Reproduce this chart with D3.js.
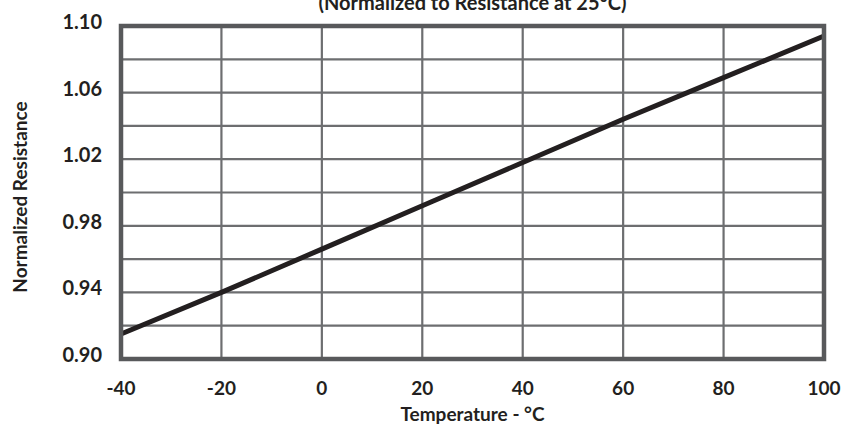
<!DOCTYPE html>
<meta charset="utf-8">
<title>Normalized Resistance</title>
<style>
body {
  margin: 0;
  background: #fff;
}
text {
  font-family: Lato, "Open Sans", sans-serif;
  font-weight: 700;
  fill: #231f20;
}
</style>
<body>
<svg width="849" height="426"></svg>
<script src="https://d3js.org/d3.v7.min.js"></script>
<script>
// temperature (°C) and resistance normalized to 25°C
var temps = [-40, -20, 0, 20, 40, 60, 80, 100];
var resistance = [0.915, 0.940, 0.966, 0.992, 1.018, 1.044, 1.069, 1.094];

var xTicks = [-40, -20, 0, 20, 40, 60, 80, 100];
var yGrid = [0.90, 0.92, 0.94, 0.96, 0.98, 1.00, 1.02, 1.04, 1.06, 1.08, 1.10];
var yLabels = [0.90, 0.94, 0.98, 1.02, 1.06, 1.10];

var svg = d3.select("svg"),
    plotLeft = 121, plotRight = 824, plotTop = 26, plotBottom = 359;

var x = d3.scaleLinear().domain([-40, 100]).range([plotLeft, plotRight]);
var y = d3.scaleLinear().domain([0.90, 1.10]).range([plotBottom, plotTop]);

//grid
var grid = svg.append("g").attr("stroke", "#6d6e70").attr("stroke-width", 2.2);

grid.selectAll(".vx")
  .data(xTicks.slice(1, -1))
  .enter().append("line")
    .attr("x1", function(d) { return x(d); })
    .attr("x2", function(d) { return x(d); })
    .attr("y1", plotTop)
    .attr("y2", plotBottom);

grid.selectAll(".hy")
  .data(yGrid.slice(1, -1))
  .enter().append("line")
    .attr("x1", plotLeft)
    .attr("x2", plotRight)
    .attr("y1", function(d) { return y(d); })
    .attr("y2", function(d) { return y(d); });

//the curve
var line = d3.line()
    .x(function(d, i) { return x(temps[i]); })
    .y(function(d) { return y(d); });

svg.append("path")
    .datum(resistance)
    .attr("d", line)
    .attr("fill", "none")
    .attr("stroke", "#231f20")
    .attr("stroke-width", 5);

//frame
svg.append("rect")
    .attr("x", plotLeft)
    .attr("y", plotTop)
    .attr("width", plotRight - plotLeft)
    .attr("height", plotBottom - plotTop)
    .attr("fill", "none")
    .attr("stroke", "#58595b")
    .attr("stroke-width", 4.5);

//tick labels
svg.append("g").selectAll("text")
  .data(xTicks)
  .enter().append("text")
    .attr("x", function(d) { return x(d); })
    .attr("y", 395)
    .attr("text-anchor", "middle")
    .style("font-size", "19px")
    .text(function(d) { return d; });

svg.append("g").selectAll("text")
  .data(yLabels)
  .enter().append("text")
    .attr("x", 102)
    .attr("y", function(d) { return y(d) - 4; })
    .attr("dy", "0.35em")
    .attr("text-anchor", "end")
    .style("font-size", "20px")
    .text(function(d) { return d3.format(".2f")(d); });

//axis titles
svg.append("text")
    .attr("x", (plotLeft + plotRight) / 2)
    .attr("y", 421)
    .attr("text-anchor", "middle")
    .style("font-size", "19px")
    .text("Temperature - °C");

svg.append("text")
    .attr("transform", "translate(27," + 197 + ") rotate(-90)")
    .attr("text-anchor", "middle")
    .style("font-size", "19px")
    .text("Normalized Resistance");

svg.append("text")
    .attr("x", (plotLeft + plotRight) / 2)
    .attr("y", 10)
    .attr("text-anchor", "middle")
    .style("font-size", "20px")
    .text("(Normalized to Resistance at 25°C)");
</script>
</body>
